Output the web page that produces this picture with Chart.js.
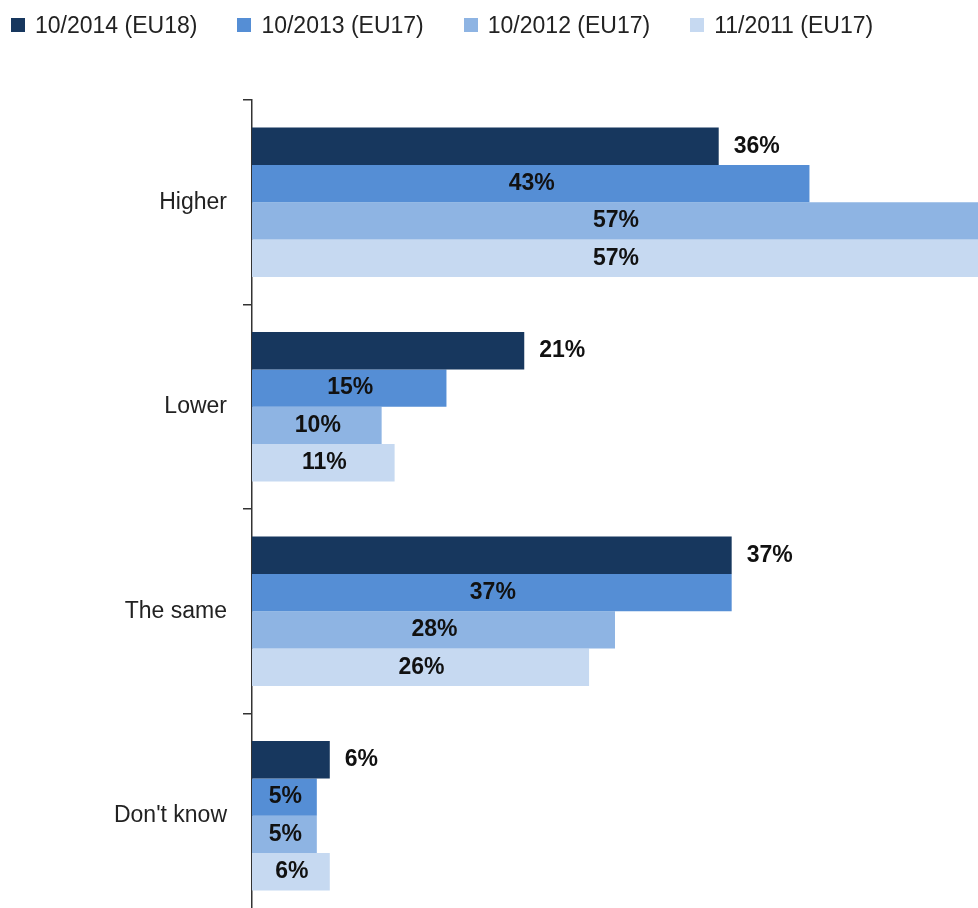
<!DOCTYPE html>
<html>
<head>
<meta charset="utf-8">
<script src="https://cdn.jsdelivr.net/npm/chart.js@4.4.1/dist/chart.umd.min.js"></script>
<style>
  html, body { margin: 0; padding: 0; background: #fff; overflow: hidden; }
  #wrap { position: relative; width: 978px; height: 920px; }
  #legend {
    position: absolute; left: 11px; top: 11px; height: 28px;
    display: flex; align-items: center;
    font: 23px "Liberation Sans", Arial, sans-serif; color: #222;
  }
  #legend .item { display: flex; align-items: center; margin-right: 40px; }
  #legend .box { width: 14px; height: 14px; margin-right: 10px; }
</style>
</head>
<body>
<div id="wrap">
  <div id="legend"></div>
  <canvas id="barChart" width="978" height="920"></canvas>
</div>
<script>
const categories = ['Higher', 'Lower', 'The same', "Don't know"];
const seriesNames = ['10/2014 (EU18)', '10/2013 (EU17)', '10/2012 (EU17)', '11/2011 (EU17)'];
const wave2014 = [36, 21, 37, 6];
const wave2013 = [43, 15, 37, 5];
const wave2012 = [57, 10, 28, 5];
const wave2011 = [57, 11, 26, 6];
const seriesColors = ['#17375E', '#558ED5', '#8EB4E3', '#C6D9F1'];

const values = [wave2014, wave2013, wave2012, wave2011];

// html legend, built from the same series lists
const legendEl = document.getElementById('legend');
seriesNames.forEach((name, i) => {
    const item = document.createElement('div');
    item.className = 'item';
    const box = document.createElement('div');
    box.className = 'box';
    box.style.background = seriesColors[i];
    const label = document.createElement('span');
    label.textContent = name;
    item.appendChild(box);
    item.appendChild(label);
    legendEl.appendChild(item);
});

// first series gets its value to the right of the bar, others centred inside
const barLabels = {
    id: 'barLabels',
    afterDatasetsDraw(chart) {
        const ctx = chart.ctx;
        const area = chart.chartArea;
        ctx.save();
        ctx.font = 'bold 23px "Liberation Sans", Arial, sans-serif';
        ctx.fillStyle = '#111';
        ctx.textBaseline = 'middle';
        chart.data.datasets.forEach((ds, di) => {
            const meta = chart.getDatasetMeta(di);
            meta.data.forEach((bar, idx) => {
                const text = ds.data[idx] + '%';
                if (di === 0) {
                    ctx.textAlign = 'left';
                    ctx.fillText(text, bar.x + 15, bar.y);
                } else {
                    const end = Math.min(bar.x, area.right);
                    ctx.textAlign = 'center';
                    ctx.fillText(text, (bar.base + end) / 2 + 1, bar.y);
                }
            });
        });
        ctx.restore();
    }
};

const canvas = document.getElementById('barChart');
const ctx = canvas.getContext('2d');

new Chart(ctx, {
    type: 'bar',
    data: {
        labels: categories,
        datasets: seriesNames.map((name, i) => ({
            label: name,
            data: values[i],
            backgroundColor: seriesColors[i],
            borderWidth: 0,
            categoryPercentage: 0.73,
            barPercentage: 1.0,
        })),
    },
    options: {
        indexAxis: 'y',
        responsive: false,
        animation: false,
        layout: { padding: { top: 100, bottom: 2, left: 0, right: 0 } },
        plugins: {
            legend: { display: false },
            tooltip: { enabled: false },
        },
        scales: {
            x: {
                display: false,
                min: 0,
                max: 56,
            },
            y: {
                afterFit(scale) {
                    scale.width = 252;
                    scale.paddingTop = 0;
                    scale.paddingBottom = 0;
                },
                border: { display: true, color: '#333', width: 1.5 },
                grid: {
                    drawOnChartArea: false,
                    drawTicks: true,
                    tickLength: 9,
                    color: '#333',
                    lineWidth: 1.5,
                    offset: true,
                },
                ticks: {
                    padding: 16,
                    color: '#222',
                    font: { size: 23, family: '"Liberation Sans", Arial, sans-serif' },
                },
            },
        },
    },
    plugins: [barLabels],
});
</script>
</body>
</html>
